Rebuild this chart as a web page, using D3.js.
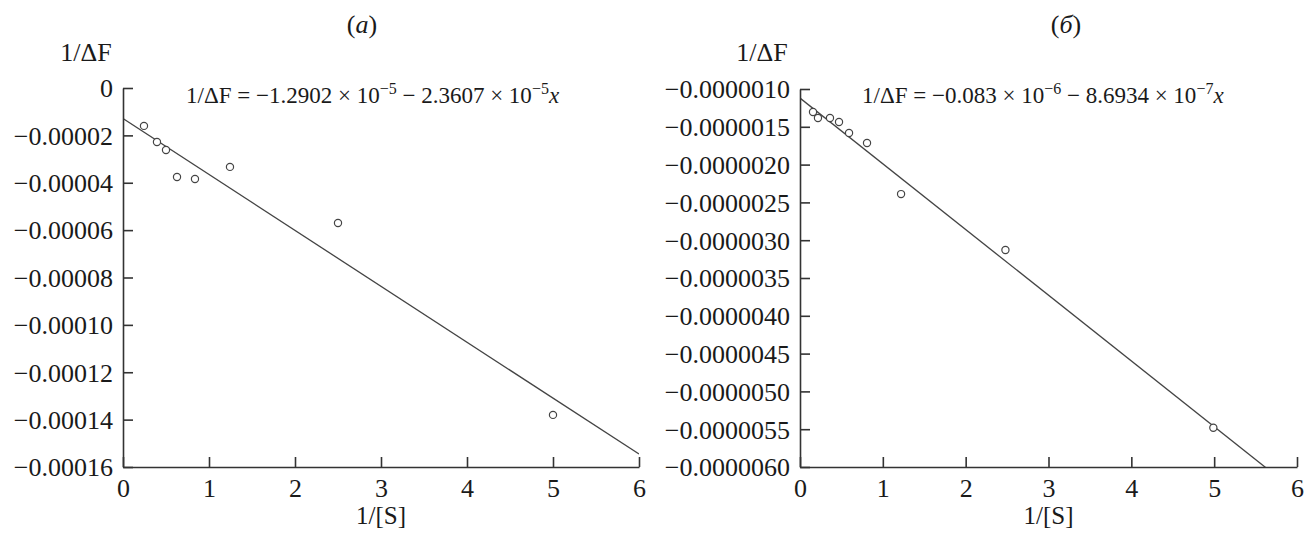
<!DOCTYPE html>
<html>
<head>
<meta charset="utf-8">
<script src="https://cdn.jsdelivr.net/npm/d3@7"></script>
<style>
  body { margin: 0; background: #fff; }
  text { font-family: "Liberation Serif", "DejaVu Serif", serif; fill: #1a1a1a; }
</style>
</head>
<body>
<svg width="1307" height="533"></svg>
<script>
// panel (a)
var xA = [0.244, 0.395, 0.5, 0.628, 0.837, 1.244, 2.5, 5.0];
var yA = [-1.60e-5, -2.28e-5, -2.62e-5, -3.76e-5, -3.84e-5, -3.33e-5, -5.70e-5, -1.38e-4];
var fitA = [-1.2902e-5, -2.3607e-5]; // intercept, slope
var yTicksA = [0, -0.00002, -0.00004, -0.00006, -0.00008, -0.00010, -0.00012, -0.00014, -0.00016];

// panel (б)
var xB = [0.157, 0.217, 0.362, 0.471, 0.592, 0.809, 1.22, 2.48, 4.99];
var yB = [-1.304e-6, -1.384e-6, -1.384e-6, -1.437e-6, -1.582e-6, -1.714e-6, -2.39e-6, -3.13e-6, -5.48e-6];
var fitB = [-1.12e-6, -8.6934e-7];
var yTicksB = [-0.0000010, -0.0000015, -0.0000020, -0.0000025, -0.0000030, -0.0000035,
  -0.0000040, -0.0000045, -0.0000050, -0.0000055, -0.0000060];

var xTicks = [0, 1, 2, 3, 4, 5, 6];

var svg = d3.select('svg');

function panel(opt) {
  var g = svg.append('g');
  var x = d3.scaleLinear().domain([0, 6]).range([opt.left, opt.right]);
  var y = d3.scaleLinear().domain(opt.yDomain).range([opt.top, opt.bottom]);

  var clipId = 'clip' + opt.id;
  g.append('clipPath').attr('id', clipId)
    .append('rect')
    .attr('x', opt.left).attr('y', opt.top)
    .attr('width', opt.right - opt.left).attr('height', opt.bottom - opt.top);

  // fit line
  var x2 = 6;
  g.append('line')
    .attr('clip-path', 'url(#' + clipId + ')')
    .attr('x1', x(0)).attr('y1', y(opt.fit[0]))
    .attr('x2', x(x2)).attr('y2', y(opt.fit[0] + opt.fit[1] * x2))
    .attr('stroke', '#444').attr('stroke-width', 1.3);

  // axes
  var yAxis = d3.axisLeft(y)
    .tickValues(opt.yTicks)
    .tickSizeInner(-10).tickSizeOuter(0).tickPadding(10)
    .tickFormat(opt.yFormat);
  var gy = g.append('g').attr('transform', 'translate(' + opt.left + ',0)').call(yAxis);

  var xAxis = d3.axisBottom(x)
    .tickValues(xTicks)
    .tickSizeInner(-10).tickSizeOuter(0).tickPadding(12)
    .tickFormat(d3.format('d'));
  var gx = g.append('g').attr('transform', 'translate(0,' + opt.bottom + ')').call(xAxis);

  [gy, gx].forEach(function(a) {
    a.select('.domain').attr('stroke', '#333').attr('stroke-width', 1.6);
    a.selectAll('.tick line').attr('stroke', '#333').attr('stroke-width', 1.6);
    a.selectAll('.tick text')
      .attr('font-size', 26)
      .attr('font-family', '"Liberation Serif", serif')
      .attr('fill', '#1a1a1a');
  });
  gy.selectAll('.tick text').attr('dy', '0.34em');
  gx.selectAll('.tick text').attr('dy', '0.68em');

  // points
  g.selectAll('circle.pt')
    .data(opt.xs.map(function(v, i) { return [v, opt.ys[i]]; }))
    .enter()
    .append('circle')
    .attr('class', 'pt')
    .attr('cx', function(d) { return x(d[0]); })
    .attr('cy', function(d) { return y(d[1]); })
    .attr('r', 3.6)
    .attr('fill', 'white')
    .attr('stroke', '#444')
    .attr('stroke-width', 1.2);

  // titles
  var t = g.append('text')
    .attr('x', opt.titleX).attr('y', 33)
    .attr('text-anchor', 'middle')
    .attr('font-size', 26);
  t.append('tspan').text('(');
  t.append('tspan').attr('font-style', 'italic').text(opt.letter);
  t.append('tspan').text(')');

  g.append('text')
    .attr('x', opt.yLabelX).attr('y', 61)
    .attr('text-anchor', 'middle')
    .attr('font-size', 26)
    .text('1/ΔF');

  g.append('text')
    .attr('x', (opt.left + opt.right) / 2).attr('y', 524)
    .attr('text-anchor', 'middle')
    .attr('font-size', 25)
    .text('1/[S]');

  // equation
  var eq = g.append('text')
    .attr('x', opt.eqX).attr('y', 103)
    .attr('font-size', 23);
  eq.append('tspan').text(opt.eq[0]);
  eq.append('tspan').attr('dy', -9).attr('font-size', 16).text(opt.eq[1]);
  eq.append('tspan').attr('dy', 9).text(opt.eq[2]);
  eq.append('tspan').attr('dy', -9).attr('font-size', 16).text(opt.eq[3]);
  eq.append('tspan').attr('dy', 9).attr('font-style', 'italic').text('x');
}

panel({
  id: 'A', left: 123, right: 639, top: 88, bottom: 467,
  yDomain: [0, -0.00016], yTicks: yTicksA,
  yFormat: function(d) { return d === 0 ? '0' : d3.format('.5f')(d); },
  xs: xA, ys: yA, fit: fitA,
  letter: 'a', titleX: 362, yLabelX: 86, eqX: 186,
  eq: ['1/ΔF = −1.2902 × 10', '−5', ' − 2.3607 × 10', '−5']
});

panel({
  id: 'B', left: 800, right: 1297, top: 89, bottom: 467,
  yDomain: [-0.0000010, -0.0000060], yTicks: yTicksB,
  yFormat: d3.format('.7f'),
  xs: xB, ys: yB, fit: fitB,
  letter: 'б', titleX: 1066, yLabelX: 762, eqX: 862,
  eq: ['1/ΔF = −0.083 × 10', '−6', ' − 8.6934 × 10', '−7']
});
</script>
</body>
</html>
